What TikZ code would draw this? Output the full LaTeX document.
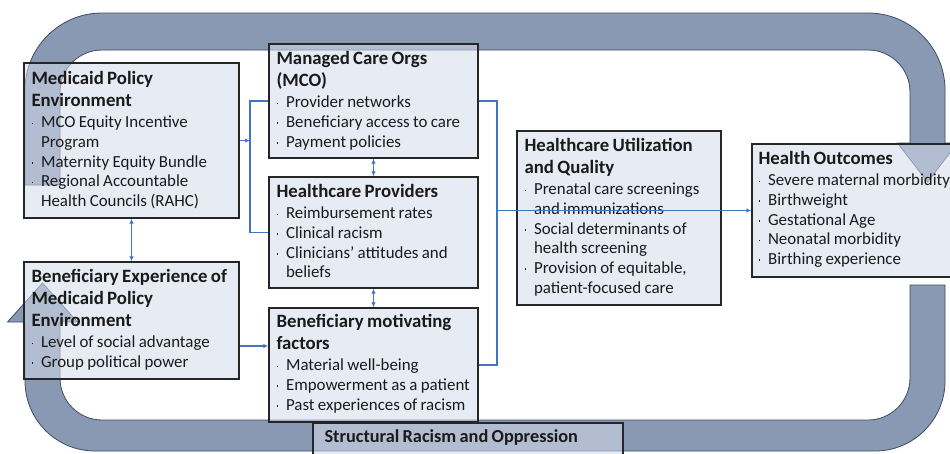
\documentclass[tikz,border=0pt]{standalone}
\usepackage{fontspec}
\setmainfont{Carlito}
\usetikzlibrary{arrows.meta,calc}
\definecolor{ringc}{HTML}{8A99B3}
\definecolor{ringline}{HTML}{3E4B63}
\definecolor{boxfill}{HTML}{D3DBEA}
\definecolor{boxline}{HTML}{262626}
\definecolor{conncol}{HTML}{4472C4}
\definecolor{txtc}{HTML}{1A1A1A}
\newcommand\ttl[1]{{\fontsize{18.8}{22}\selectfont\bfseries #1\par}\vspace{1.8pt}}
\newcommand\itm[1]{{\fontsize{16.9}{19.7}\selectfont\hangindent=9.5pt\hangafter=1\noindent\makebox[9.5pt][l]{\raisebox{3.5pt}{\rule{1.8pt}{1.8pt}}}#1\par}}
\begin{document}
\begin{tikzpicture}[x=1pt,y=-1pt,
  ring/.style={fill=ringc, draw=ringline, line width=0.8pt, line join=round},
  box/.style={rectangle, draw=boxline, line width=1.3pt, fill=boxfill, fill opacity=0.55, draw opacity=1, inner sep=0pt},
  txt/.style={anchor=base west, inner sep=0pt, text width=330pt, align=left, text=txtc},
  conn/.style={draw=conncol, line width=1.1pt},
  tipr/.style={-{Latex[length=5pt,width=4.5pt]}},
  tipb/.style={{Latex[length=5pt,width=4.5pt]}-{Latex[length=5pt,width=4.5pt]}}
]
\useasboundingbox (0,0) rectangle (950,453);
% ring, upper part
\draw[ring] (25,185) -- (25,90) arc[start angle=180, end angle=270, radius=77]
  -- (868,13) arc[start angle=270, end angle=360, radius=77]
  -- (945,143) -- (957.5,143) -- (927.5,182) -- (897.5,143) -- (910,143)
  -- (910,92) arc[start angle=0, end angle=-90, radius=42]
  -- (102,50) arc[start angle=-90, end angle=-180, radius=42]
  -- (60,185) -- cycle;
% ring, lower part
\draw[ring] (945,285) -- (945,381) arc[start angle=0, end angle=90, radius=70]
  -- (95,451) arc[start angle=90, end angle=180, radius=70]
  -- (25,322) -- (7.5,322) -- (42.5,283) -- (77.5,322) -- (60,322)
  -- (60,378) arc[start angle=180, end angle=90, radius=42]
  -- (868,420) arc[start angle=90, end angle=0, radius=42]
  -- (910,285) -- cycle;
% boxes
\node[box, minimum width=215pt, minimum height=155pt] (mpe) at (131.5,140.5) {};
\node[box, minimum width=215pt, minimum height=117pt] (be) at (131.5,320.5) {};
\node[box, minimum width=209pt, minimum height=114pt] (mco) at (373.5,101) {};
\node[box, minimum width=209pt, minimum height=111pt] (hp) at (373.5,232.5) {};
\node[box, minimum width=209pt, minimum height=114pt] (bm) at (373.5,365) {};
\node[box, minimum width=204pt, minimum height=174pt] (hu) at (619,218) {};
\node[box, minimum width=210pt, minimum height=133pt] (ho) at (857,210.5) {};
\node[box, minimum width=310pt, minimum height=50pt] (sr) at (468,448) {};
% texts
\node[txt] (mpet) at ([shift={(8pt,-22pt)}]mpe.north west) {\ttl{Medicaid Policy\\Environment}\itm{MCO Equity Incentive\newline Program}\itm{Maternity Equity Bundle}\itm{Regional Accountable\newline Health Councils (RAHC)}};
\node[txt] (bet) at ([shift={(8pt,-21pt)}]be.north west) {\ttl{Beneficiary Experience of\\Medicaid Policy\\Environment}\itm{Level of social advantage}\itm{Group political power}};
\node[txt] (mcot) at ([shift={(8pt,-21pt)}]mco.north west) {\ttl{Managed Care Orgs\\(MCO)}\itm{Provider networks}\itm{Beneficiary access to care}\itm{Payment policies}};
\node[txt] (hpt) at ([shift={(8pt,-21pt)}]hp.north west) {\ttl{Healthcare Providers}\itm{Reimbursement rates}\itm{Clinical racism}\itm{Clinicians’ attitudes and\newline beliefs}};
\node[txt] (bmt) at ([shift={(8pt,-20pt)}]bm.north west) {\ttl{Beneficiary motivating\\factors}\itm{Material well-being}\itm{Empowerment as a patient}\itm{Past experiences of racism}};
\node[txt] (hut) at ([shift={(8pt,-21pt)}]hu.north west) {\ttl{Healthcare Utilization\\and Quality}\itm{Prenatal care screenings\newline and immunizations}\itm{Social determinants of\newline health screening}\itm{Provision of equitable,\newline patient-focused care}};
\node[txt] (hot) at ([shift={(7pt,-21pt)}]ho.north west) {\ttl{Health Outcomes}\itm{Severe maternal morbidity}\itm{Birthweight}\itm{Gestational Age}\itm{Neonatal morbidity}\itm{Birthing experience}};
\node[txt] (srt) at ([shift={(12pt,-20pt)}]sr.north west) {\fontsize{18.3}{22}\selectfont\bfseries Structural Racism and Oppression};
% connectors
\coordinate (lb) at (250,0);
\coordinate (rb) at (497,0);
\draw[conn] (mco.west) -- (lb |- mco.west) -- (lb |- hp.west) -- (hp.west);
\draw[conn, tipr] (mpe.east) -- (lb |- mpe.east);
\draw[conn, tipb] (mpe.south) -- (be.north);
\draw[conn, tipb] (mco.south) -- (hp.north);
\draw[conn, tipb] (hp.south) -- (bm.north);
\coordinate (bex) at ([yshift=-25.5pt]be.east);
\draw[conn, tipr] (bex) -- (bex -| bm.west);
\draw[conn] (mco.east) -- (rb |- mco.east) -- (rb |- bm.east) -- (bm.east);
\draw[conn, tipr] (rb |- ho.west) -- (ho.west);
\end{tikzpicture}
\end{document}
